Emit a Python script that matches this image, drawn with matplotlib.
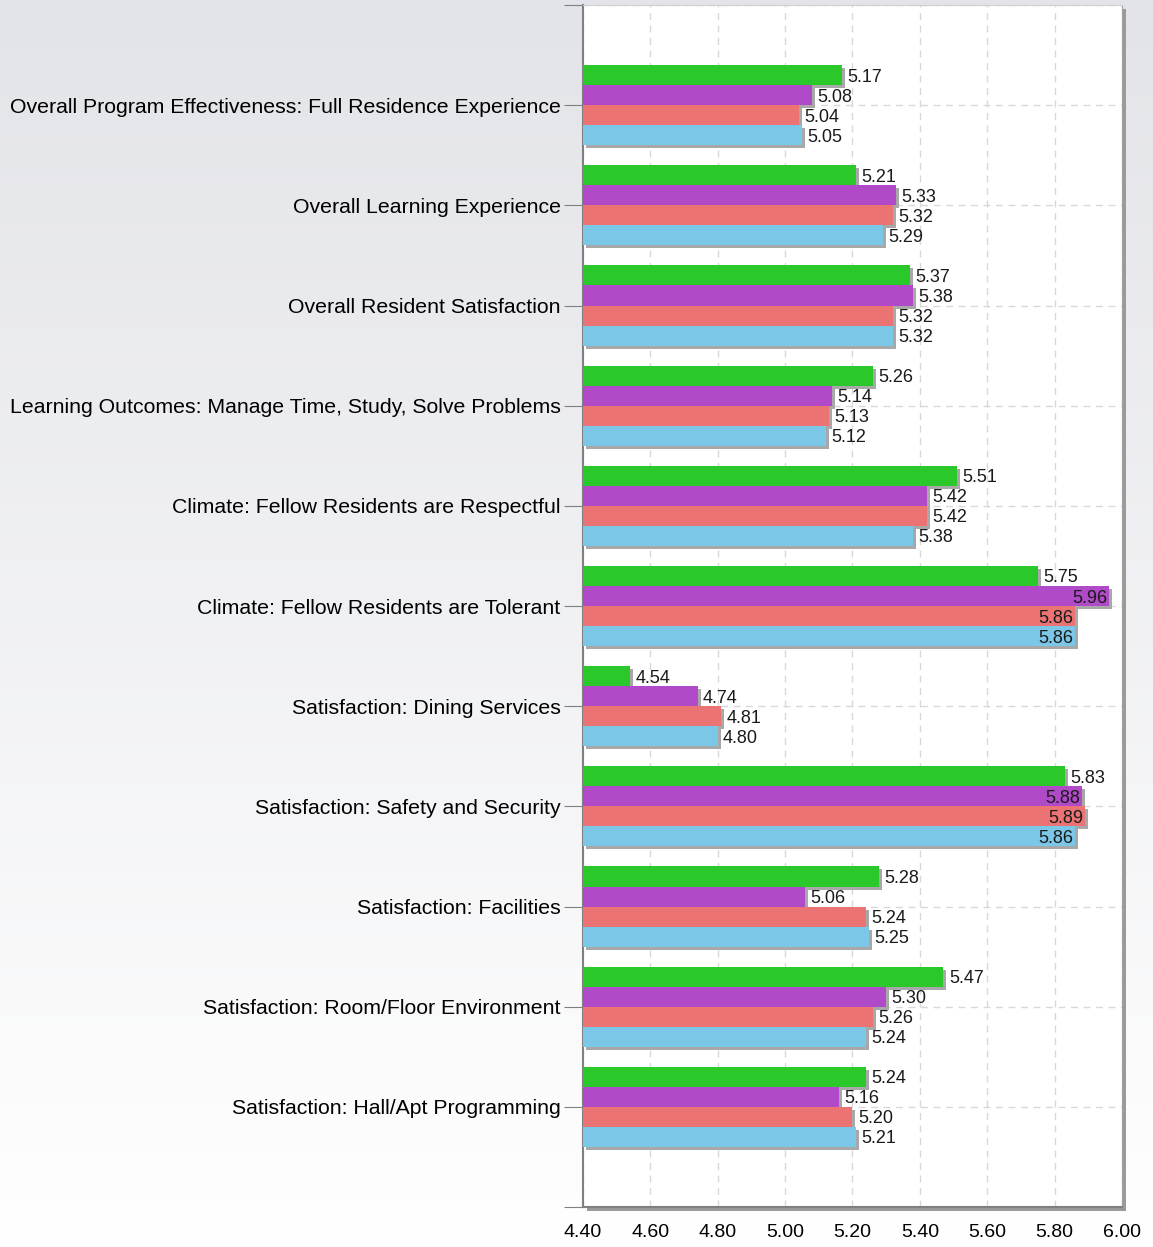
import numpy as np
import matplotlib.pyplot as plt
import matplotlib.transforms as mtransforms
from matplotlib.patches import Rectangle

plt.rcParams['font.family'] = ['Liberation Sans', 'DejaVu Sans']

categories = [
    "Overall Program Effectiveness: Full Residence Experience",
    "Overall Learning Experience",
    "Overall Resident Satisfaction",
    "Learning Outcomes: Manage Time, Study, Solve Problems",
    "Climate: Fellow Residents are Respectful",
    "Climate: Fellow Residents are Tolerant",
    "Satisfaction: Dining Services",
    "Satisfaction: Safety and Security",
    "Satisfaction: Facilities",
    "Satisfaction: Room/Floor Environment",
    "Satisfaction: Hall/Apt Programming",
]
series_green = [5.17, 5.21, 5.37, 5.26, 5.51, 5.75, 4.54, 5.83, 5.28, 5.47, 5.24]
series_purple = [5.08, 5.33, 5.38, 5.14, 5.42, 5.96, 4.74, 5.88, 5.06, 5.30, 5.16]
series_salmon = [5.04, 5.32, 5.32, 5.13, 5.42, 5.86, 4.81, 5.89, 5.24, 5.26, 5.20]
series_blue = [5.05, 5.29, 5.32, 5.12, 5.38, 5.86, 4.80, 5.86, 5.25, 5.24, 5.21]
x_ticks = [4.40, 4.60, 4.80, 5.00, 5.20, 5.40, 5.60, 5.80, 6.00]

series = [series_green, series_purple, series_salmon, series_blue]
colors = ['#2bc82b', '#b04ac9', '#ec7373', '#7bc7e8']
base = 4.40

fig = plt.figure(figsize=(11.53, 12.47), dpi=100)

# background gradient
bg = fig.add_axes([0, 0, 1, 1], zorder=-10)
grad = np.linspace(0, 1, 256).reshape(-1, 1)
bg.imshow(grad, aspect='auto', cmap=plt.matplotlib.colors.LinearSegmentedColormap.from_list(
    'bgc', ['#e3e4e9', '#ffffff']), extent=[0, 1, 0, 1], origin='upper')
bg.set_axis_off()

ax_rect = [0.5056, 0.032, 0.4675, 0.964]
# frame shadow
shadow = Rectangle((ax_rect[0] + 4 / 1153, ax_rect[1] - 4 / 1247), ax_rect[2], ax_rect[3],
                   transform=fig.transFigure, facecolor='#9a9a9a', edgecolor='none', zorder=-5)
fig.patches.append(shadow)

ax = fig.add_axes(ax_rect)
ax.set_facecolor('white')

y = np.arange(len(categories))
h = 0.2
offsets = [-0.3, -0.1, 0.1, 0.3]
shadow_tr = mtransforms.offset_copy(ax.transData, fig=fig, x=3, y=-3, units='dots')

for vals, off, col in zip(series, offsets, colors):
    vals = np.array(vals)
    ax.barh(y + off, vals - base, left=base, height=h, color='#a8a8a8',
            edgecolor='none', transform=shadow_tr, zorder=2)
    ax.barh(y + off, vals - base, left=base, height=h, color=col,
            edgecolor='none', zorder=3)
    for yi, v in zip(y + off, vals):
        if v >= 5.85:
            ax.text(v - 0.004, yi + 0.02, f'{v:.2f}', ha='right', va='center',
                    fontsize=13, color='#1a1a1a', zorder=5)
        else:
            ax.text(v + 0.016, yi + 0.02, f'{v:.2f}', ha='left', va='center',
                    fontsize=13, color='#1a1a1a', zorder=5)

ax.set_xlim(4.40, 6.00)
ax.set_ylim(11, -1)
ax.set_xticks(x_ticks)
ax.set_xticklabels([f'{t:.2f}' for t in x_ticks], fontsize=14)
ax.tick_params(axis='x', length=0, pad=12)
ax.set_yticks(np.arange(-1, 12))
ax.set_yticklabels([''] + categories + [''], fontsize=15.3)
ax.tick_params(axis='y', length=14, color='#808080', pad=2)

ax.grid(True, axis='x', linestyle=(0, (5, 4)), color='#d8d8d8', linewidth=1, zorder=0)
ax.grid(True, axis='y', linestyle=(0, (5, 4)), color='#d8d8d8', linewidth=1, zorder=0)
ax.set_axisbelow(True)

ax.spines['left'].set_color('#808080')
ax.spines['left'].set_linewidth(1.5)
ax.spines['bottom'].set_color('#808080')
ax.spines['bottom'].set_linewidth(1.5)
ax.spines['top'].set_color('#d0d0d0')
ax.spines['right'].set_color('#a0a0a0')

fig.savefig('out.png', dpi=100)
